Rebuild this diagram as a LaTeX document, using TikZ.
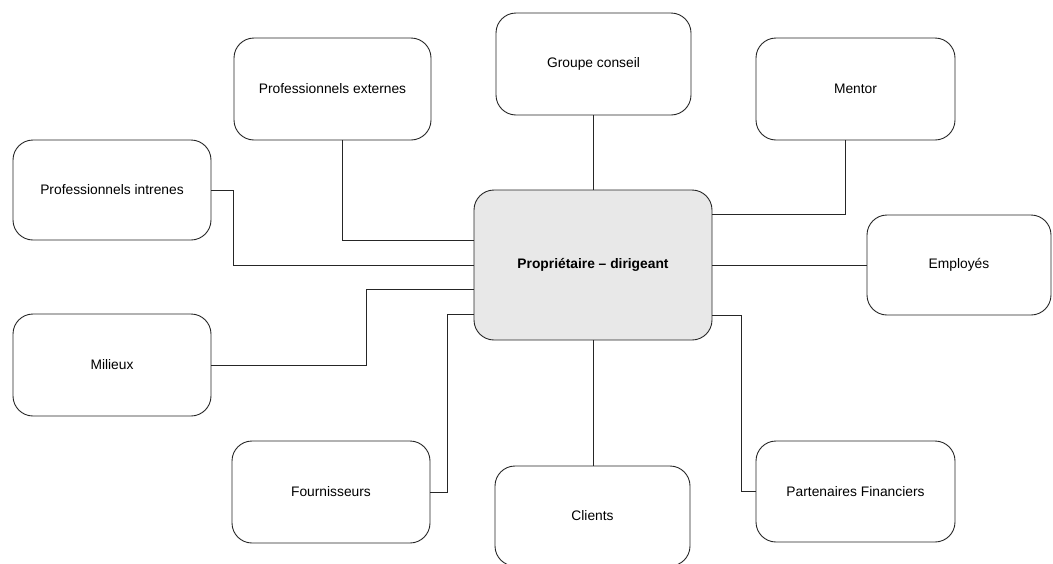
\documentclass[tikz,border=0pt]{standalone}
\usepackage{fontspec}
\setmainfont{Liberation Sans}
\begin{document}
\begin{tikzpicture}[x=1pt,y=-1pt,
  box/.style={draw=black!85, line width=0.9pt, rounded corners=20pt,
    minimum width=197pt, minimum height=102pt, inner sep=0pt,
    font=\fontsize{13.8}{16}\selectfont, anchor=center},
  hub/.style={box, fill=gray!18, minimum width=238pt, minimum height=150pt,
    font=\fontsize{13.8}{16}\selectfont\bfseries},
  link/.style={draw=black!85, line width=0.8pt}]
\useasboundingbox (0,0) rectangle (1053,563);

% central actor
\node[hub] (hub) at (593,265) {Propriétaire -- dirigeant};

% surrounding actors
\node[box, minimum width=195pt] (groupe) at (593.5,64) {Groupe conseil};
\node[box] (extern) at (332.5,89) {Professionnels externes};
\node[box, minimum width=199pt] (mentor) at (855.5,89) {Mentor};
\node[box, minimum width=198pt, minimum height=100pt] (intern) at (112,190) {Professionnels intrenes};
\node[box, minimum width=184pt, minimum height=100pt] (employes) at (959,265) {Employés};
\node[box, minimum width=198pt] (milieux) at (112,365) {Milieux};
\node[box, minimum width=198pt] (fourn) at (331,492) {Fournisseurs};
\node[box, minimum width=195pt, minimum height=100pt] (clients) at (592.5,516) {Clients};
\node[box, minimum width=199pt, minimum height=101pt] (parten) at (855.5,491.5) {Partenaires Financiers};

% connectors
\draw[link] (groupe.south) -- (groupe.south |- hub.north);
\draw[link] ([xshift=10pt]extern.south) |- ([yshift=25pt]hub.west);
\draw[link] (intern.east) -- ++(22,0) |- (hub.west);
\draw[link] (milieux.east) -- ++(155,0) |- ([yshift=-24pt]hub.west);
\draw[link] (fourn.east) -- ++(17,0) |- ([yshift=-49pt]hub.west);
\draw[link] (hub.south) -- (hub.south |- clients.north);
\draw[link] ([yshift=-50pt]hub.east) -- ++(29,0) |- (parten.west);
\draw[link] (hub.east) -- (employes.west);
\draw[link] ([yshift=51pt]hub.east) -| ([xshift=-10pt]mentor.south);
\end{tikzpicture}
\end{document}
